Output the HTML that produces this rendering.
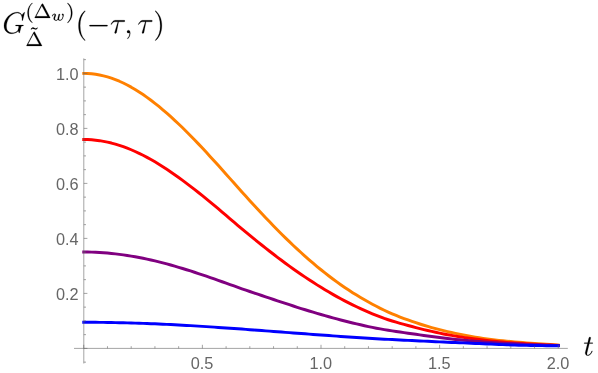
<!DOCTYPE html><html><head><meta charset="utf-8"><title>plot</title><style>html,body{margin:0;padding:0;background:#fff}svg{display:block}text{font-family:"Liberation Sans",sans-serif;font-size:16.3px;fill:#666}</style></head><body>
<svg width="598" height="373" viewBox="0 0 598 373">
<rect width="598" height="373" fill="#fff"/>
<g fill="none" stroke-width="2.95" stroke-linecap="square" stroke-linejoin="round">
<path stroke="#ff8000" d="M83.75 73.40 L87.70 73.50 L91.66 73.79 L95.61 74.28 L99.57 74.96 L103.52 75.84 L107.47 76.91 L111.43 78.16 L115.38 79.60 L119.34 81.23 L123.29 83.03 L127.25 85.01 L131.20 87.16 L135.15 89.47 L139.11 91.95 L143.06 94.58 L147.02 97.35 L150.97 100.27 L154.93 103.31 L158.88 106.47 L162.83 109.76 L166.79 113.16 L170.74 116.67 L174.70 120.29 L178.65 124.00 L182.60 127.81 L186.56 131.71 L190.51 135.69 L194.47 139.75 L198.42 143.88 L202.38 148.07 L206.33 152.33 L210.28 156.63 L214.24 160.98 L218.19 165.36 L222.15 169.77 L226.10 174.19 L230.05 178.62 L234.01 183.06 L237.96 187.49 L241.92 191.90 L245.87 196.29 L249.82 200.66 L253.78 204.98 L257.73 209.27 L261.69 213.50 L265.64 217.69 L269.60 221.83 L273.55 225.92 L277.50 229.95 L281.46 233.92 L285.41 237.83 L289.37 241.67 L293.32 245.45 L297.27 249.15 L301.23 252.78 L305.18 256.34 L309.14 259.81 L313.09 263.21 L317.05 266.53 L321.00 269.76 L324.95 272.92 L328.91 275.99 L332.86 278.97 L336.82 281.87 L340.77 284.69 L344.73 287.42 L348.68 290.07 L352.63 292.64 L356.59 295.12 L360.54 297.52 L364.50 299.84 L368.45 302.08 L372.40 304.23 L376.36 306.31 L380.31 308.32 L384.27 310.23 L388.22 312.05 L392.18 313.78 L396.13 315.43 L400.08 317.01 L404.04 318.52 L407.99 319.97 L411.95 321.36 L415.90 322.71 L419.85 324.02 L423.81 325.26 L427.76 326.45 L431.72 327.58 L435.67 328.66 L439.62 329.69 L443.58 330.67 L447.53 331.60 L451.49 332.49 L455.44 333.33 L459.40 334.13 L463.35 334.90 L467.30 335.64 L471.26 336.37 L475.21 337.08 L479.17 337.76 L483.12 338.39 L487.07 338.95 L491.03 339.47 L494.98 339.95 L498.94 340.40 L502.89 340.82 L506.85 341.21 L510.80 341.58 L514.75 341.93 L518.71 342.26 L522.66 342.58 L526.62 342.89 L530.57 343.19 L534.52 343.48 L538.48 343.77 L542.43 344.04 L546.39 344.31 L550.34 344.57 L554.30 344.82 L558.25 345.06"/>
<path stroke="#ff0000" d="M83.75 139.51 L87.70 139.58 L91.66 139.80 L95.61 140.17 L99.57 140.67 L103.52 141.33 L107.47 142.12 L111.43 143.06 L115.38 144.13 L119.34 145.34 L123.29 146.68 L127.25 148.15 L131.20 149.75 L135.15 151.48 L139.11 153.32 L143.06 155.29 L147.02 157.36 L150.97 159.54 L154.93 161.83 L158.88 164.22 L162.83 166.70 L166.79 169.27 L170.74 171.93 L174.70 174.67 L178.65 177.48 L182.60 180.36 L186.56 183.31 L190.51 186.31 L194.47 189.37 L198.42 192.48 L202.38 195.63 L206.33 198.83 L210.28 202.09 L214.24 205.40 L218.19 208.74 L222.15 212.10 L226.10 215.47 L230.05 218.84 L234.01 222.20 L237.96 225.54 L241.92 228.84 L245.87 232.12 L249.82 235.38 L253.78 238.61 L257.73 241.81 L261.69 244.99 L265.64 248.13 L269.60 251.23 L273.55 254.29 L277.50 257.31 L281.46 260.29 L285.41 263.22 L289.37 266.11 L293.32 268.94 L297.27 271.73 L301.23 274.46 L305.18 277.15 L309.14 279.78 L313.09 282.35 L317.05 284.88 L321.00 287.34 L324.95 289.75 L328.91 292.10 L332.86 294.39 L336.82 296.61 L340.77 298.77 L344.73 300.86 L348.68 302.90 L352.63 304.87 L356.59 306.77 L360.54 308.62 L364.50 310.40 L368.45 312.12 L372.40 313.78 L376.36 315.39 L380.31 316.93 L384.27 318.39 L388.22 319.74 L392.18 321.01 L396.13 322.20 L400.08 323.34 L404.04 324.42 L407.99 325.48 L411.95 326.52 L415.90 327.56 L419.85 328.58 L423.81 329.57 L427.76 330.51 L431.72 331.42 L435.67 332.30 L439.62 333.13 L443.58 333.93 L447.53 334.69 L451.49 335.42 L455.44 336.11 L459.40 336.76 L463.35 337.38 L467.30 337.96 L471.26 338.52 L475.21 339.04 L479.17 339.54 L483.12 340.01 L487.07 340.46 L491.03 340.88 L494.98 341.28 L498.94 341.66 L502.89 342.02 L506.85 342.36 L510.80 342.68 L514.75 342.98 L518.71 343.26 L522.66 343.53 L526.62 343.79 L530.57 344.03 L534.52 344.26 L538.48 344.47 L542.43 344.67 L546.39 344.86 L550.34 345.04 L554.30 345.21 L558.25 345.37"/>
<path stroke="#800080" d="M83.75 252.03 L87.70 252.06 L91.66 252.15 L95.61 252.29 L99.57 252.49 L103.52 252.74 L107.47 253.06 L111.43 253.44 L115.38 253.87 L119.34 254.37 L123.29 254.91 L127.25 255.50 L131.20 256.13 L135.15 256.81 L139.11 257.54 L143.06 258.32 L147.02 259.14 L150.97 260.01 L154.93 260.93 L158.88 261.89 L162.83 262.90 L166.79 263.94 L170.74 265.03 L174.70 266.15 L178.65 267.31 L182.60 268.50 L186.56 269.72 L190.51 270.96 L194.47 272.23 L198.42 273.53 L202.38 274.85 L206.33 276.19 L210.28 277.56 L214.24 278.95 L218.19 280.35 L222.15 281.76 L226.10 283.17 L230.05 284.58 L234.01 285.98 L237.96 287.38 L241.92 288.77 L245.87 290.14 L249.82 291.50 L253.78 292.85 L257.73 294.19 L261.69 295.52 L265.64 296.84 L269.60 298.16 L273.55 299.48 L277.50 300.79 L281.46 302.10 L285.41 303.42 L289.37 304.72 L293.32 306.01 L297.27 307.29 L301.23 308.54 L305.18 309.78 L309.14 311.00 L313.09 312.20 L317.05 313.37 L321.00 314.53 L324.95 315.66 L328.91 316.78 L332.86 317.86 L336.82 318.93 L340.77 319.97 L344.73 320.99 L348.68 321.98 L352.63 322.95 L356.59 323.89 L360.54 324.81 L364.50 325.71 L368.45 326.58 L372.40 327.41 L376.36 328.18 L380.31 328.91 L384.27 329.60 L388.22 330.25 L392.18 330.88 L396.13 331.48 L400.08 332.06 L404.04 332.63 L407.99 333.20 L411.95 333.76 L415.90 334.33 L419.85 334.90 L423.81 335.46 L427.76 336.01 L431.72 336.55 L435.67 337.07 L439.62 337.57 L443.58 338.06 L447.53 338.53 L451.49 338.99 L455.44 339.42 L459.40 339.82 L463.35 340.21 L467.30 340.57 L471.26 340.91 L475.21 341.24 L479.17 341.56 L483.12 341.86 L487.07 342.14 L491.03 342.41 L494.98 342.67 L498.94 342.92 L502.89 343.15 L506.85 343.38 L510.80 343.59 L514.75 343.80 L518.71 343.99 L522.66 344.18 L526.62 344.35 L530.57 344.52 L534.52 344.68 L538.48 344.83 L542.43 344.98 L546.39 345.11 L550.34 345.24 L554.30 345.37 L558.25 345.49"/>
<path stroke="#0000ff" d="M83.75 322.28 L87.70 322.29 L91.66 322.30 L95.61 322.33 L99.57 322.36 L103.52 322.40 L107.47 322.46 L111.43 322.52 L115.38 322.60 L119.34 322.68 L123.29 322.77 L127.25 322.88 L131.20 322.99 L135.15 323.11 L139.11 323.24 L143.06 323.38 L147.02 323.52 L150.97 323.68 L154.93 323.84 L158.88 324.01 L162.83 324.19 L166.79 324.38 L170.74 324.58 L174.70 324.78 L178.65 324.99 L182.60 325.20 L186.56 325.43 L190.51 325.65 L194.47 325.89 L198.42 326.13 L202.38 326.38 L206.33 326.63 L210.28 326.88 L214.24 327.15 L218.19 327.41 L222.15 327.68 L226.10 327.96 L230.05 328.23 L234.01 328.51 L237.96 328.80 L241.92 329.09 L245.87 329.37 L249.82 329.67 L253.78 329.96 L257.73 330.26 L261.69 330.55 L265.64 330.85 L269.60 331.15 L273.55 331.45 L277.50 331.75 L281.46 332.05 L285.41 332.35 L289.37 332.65 L293.32 332.95 L297.27 333.25 L301.23 333.55 L305.18 333.84 L309.14 334.14 L313.09 334.43 L317.05 334.72 L321.00 335.01 L324.95 335.30 L328.91 335.59 L332.86 335.87 L336.82 336.15 L340.77 336.43 L344.73 336.70 L348.68 336.97 L352.63 337.24 L356.59 337.50 L360.54 337.77 L364.50 338.02 L368.45 338.28 L372.40 338.52 L376.36 338.75 L380.31 338.98 L384.27 339.19 L388.22 339.39 L392.18 339.59 L396.13 339.79 L400.08 339.98 L404.04 340.17 L407.99 340.36 L411.95 340.55 L415.90 340.75 L419.85 340.95 L423.81 341.15 L427.76 341.34 L431.72 341.53 L435.67 341.71 L439.62 341.89 L443.58 342.07 L447.53 342.24 L451.49 342.41 L455.44 342.58 L459.40 342.74 L463.35 342.90 L467.30 343.06 L471.26 343.23 L475.21 343.41 L479.17 343.58 L483.12 343.75 L487.07 343.92 L491.03 344.09 L494.98 344.26 L498.94 344.43 L502.89 344.60 L506.85 344.77 L510.80 344.92 L514.75 345.06 L518.71 345.19 L522.66 345.29 L526.62 345.38 L530.57 345.46 L534.52 345.52 L538.48 345.58 L542.43 345.63 L546.39 345.66 L550.34 345.69 L554.30 345.70 L558.25 345.70"/>
</g>
<g stroke="#666" stroke-width="0.6" fill="none">
<path d="M74 348.4 H567.8"/>
<path d="M83.8 58.4 V363.5"/>
<path d="M83.75 348.4 v-3.6M107.47 348.4 v-2.2M131.20 348.4 v-2.2M154.93 348.4 v-2.2M178.65 348.4 v-2.2M202.38 348.4 v-3.6M226.10 348.4 v-2.2M249.82 348.4 v-2.2M273.55 348.4 v-2.2M297.27 348.4 v-2.2M321.00 348.4 v-3.6M344.73 348.4 v-2.2M368.45 348.4 v-2.2M392.18 348.4 v-2.2M415.90 348.4 v-2.2M439.62 348.4 v-3.6M463.35 348.4 v-2.2M487.07 348.4 v-2.2M510.80 348.4 v-2.2M534.52 348.4 v-2.2M558.25 348.4 v-3.6"/>
<path d="M83.8 362.15 h2.2M83.8 348.40 h3.6M83.8 334.65 h2.2M83.8 320.90 h2.2M83.8 307.15 h2.2M83.8 293.40 h3.6M83.8 279.65 h2.2M83.8 265.90 h2.2M83.8 252.15 h2.2M83.8 238.40 h3.6M83.8 224.65 h2.2M83.8 210.90 h2.2M83.8 197.15 h2.2M83.8 183.40 h3.6M83.8 169.65 h2.2M83.8 155.90 h2.2M83.8 142.15 h2.2M83.8 128.40 h3.6M83.8 114.65 h2.2M83.8 100.90 h2.2M83.8 87.15 h2.2M83.8 73.40 h3.6M83.8 59.65 h2.2"/>
</g>
<g style="will-change:transform">
<text x="78.6" y="299.50" text-anchor="end">0.2</text>
<text x="78.6" y="244.50" text-anchor="end">0.4</text>
<text x="78.6" y="189.50" text-anchor="end">0.6</text>
<text x="78.6" y="134.50" text-anchor="end">0.8</text>
<text x="78.6" y="79.50" text-anchor="end">1.0</text>
<text x="202.07" y="368.8" text-anchor="middle">0.5</text>
<text x="320.70" y="368.8" text-anchor="middle">1.0</text>
<text x="439.32" y="368.8" text-anchor="middle">1.5</text>
<text x="557.95" y="368.8" text-anchor="middle">2.0</text>
</g>
<g fill="#000" stroke="#000" stroke-width="0.35" stroke-linejoin="round" transform="translate(2.5 3) scale(0.6226)">
<path d="M35.66 15.11C35.66 14.67 35.33 14.67 35.22 14.67C35.12 14.67 34.94 14.67 34.56 15.16L31.27 19.13C31.02 18.73 30.06 17.06 28.2 15.97C26.14 14.67 24.09 14.67 23.38 14.67C13.14 14.67 2.39 25.09 2.39 36.38C2.39 44.27 7.84 49.33 15.02 49.33C18.45 49.33 22.8 48.19 25.19 45.17C25.72 46.98 26.77 48.28 27.09 48.28C27.34 48.28 27.39 48.14 27.44 48.14C27.48 48.05 27.86 46.38 28.11 45.52L28.88 42.45C29.25 40.88 29.44 40.2 29.78 38.77C30.25 36.95 30.34 36.81 32.98 36.77C33.17 36.77 33.75 36.77 33.75 35.86C33.75 35.38 33.27 35.38 33.12 35.38C32.31 35.38 31.41 35.47 30.55 35.47L27.97 35.47C25.95 35.47 23.84 35.38 21.89 35.38C21.45 35.38 20.89 35.38 20.89 36.23C20.89 36.72 21.27 36.72 21.27 36.77L22.47 36.77C26.23 36.77 26.23 37.14 26.23 37.86C26.23 37.91 25.33 42.73 24.42 44.17C22.61 46.84 18.83 47.95 16.02 47.95C12.33 47.95 6.36 46.03 6.36 37.77C6.36 34.56 7.5 27.25 12.14 21.84C15.16 18.41 19.59 16.06 23.8 16.06C29.44 16.06 31.45 20.89 31.45 25.3C31.45 26.06 31.27 27.11 31.27 27.78C31.27 28.2 31.73 28.2 31.88 28.2C32.41 28.2 32.45 28.16 32.64 27.3ZM35.66 15.11"/>
<path d="M47.52 31.87C47.77 31.87 48.16 31.87 48.16 31.48C48.16 31.35 48.13 31.32 47.71 30.92C43.35 26.81 42.27 20.87 42.27 15.93C42.27 6.76 46.05 2.46 47.68 0.99C48.13 0.57 48.16 0.54 48.16 0.38C48.16 0.23 48.04 0.01 47.71 0.01C47.21 0.01 45.62 1.63 45.35 1.92C41.08 6.38 40.19 12.12 40.19 15.93C40.19 23.07 43.19 28.81 47.52 31.87ZM47.52 31.87"/>
<path d="M65.11 1.79C64.76 1.15 64.39 1.15 64.16 1.15C63.94 1.15 63.55 1.15 63.2 1.79L51.92 23.1C51.7 23.45 51.7 23.52 51.7 23.59C51.7 23.9 51.95 23.9 52.47 23.9L75.86 23.9C76.39 23.9 76.61 23.9 76.61 23.59C76.61 23.52 76.61 23.45 76.39 23.1ZM63.11 4.27L72.19 21.38L54.03 21.38ZM63.11 4.27"/>
<path d="M85.52 20.35C85.69 19.95 85.74 19.81 85.74 19.43C85.74 18.09 84.52 17.35 83.35 17.35C80.91 17.35 79.74 20.53 79.74 21.03C79.74 21.15 79.83 21.37 80.18 21.37C80.5 21.37 80.58 21.21 80.65 21.01C81.32 18.71 82.58 18.14 83.25 18.14C83.74 18.14 83.9 18.45 83.9 18.99C83.9 19.53 83.58 20.31 83.33 20.96C82.36 23.34 82.22 24.26 82.22 24.87C82.22 27.17 84.07 28.12 86.32 28.12C86.77 28.12 88.05 28.12 89.11 26.48L89.3 26.71C89.58 27.1 90.38 28.12 92.66 28.12C97.04 28.12 98.16 20.29 98.16 19.31C98.16 17.59 97.18 17.32 96.88 17.32C96.21 17.32 95.54 18.03 95.54 18.67C95.54 19.09 95.85 19.34 96.02 19.45C96.61 19.93 96.9 20.56 96.9 21.29C96.9 21.84 95.77 27.34 92.77 27.34C90.69 27.34 90.69 25.68 90.69 25.21C90.69 24.59 90.9 23.7 91.1 22.96L91.69 20.56L92.02 19.21C92.1 18.93 92.21 18.48 92.21 18.37C92.21 18.09 92 17.59 91.35 17.59C90.47 17.59 90.3 18.32 90.08 19.17C89.9 19.95 89.04 23.32 88.94 23.74C88.86 24.1 88.8 24.4 88.8 24.92C88.8 25.09 88.8 25.23 88.82 25.37C88.1 26.84 87.4 27.34 86.41 27.34C84.74 27.34 84.11 26.39 84.11 25.14C84.11 24.23 84.47 23.01 85.21 21.2ZM85.52 20.35"/>
<path d="M112.11 15.93C112.11 12.92 111.59 9.27 109.62 5.51C108.06 2.59 105.17 0.01 104.59 0.01C104.26 0.01 104.17 0.23 104.17 0.38C104.17 0.51 104.17 0.57 104.56 0.96C109.01 5.2 110.04 11.02 110.04 15.93C110.04 25.07 106.25 29.42 104.62 30.88C104.2 31.29 104.17 31.32 104.17 31.48C104.17 31.63 104.26 31.87 104.59 31.87C105.09 31.87 106.68 30.24 106.95 29.95C111.22 25.49 112.11 19.76 112.11 15.93ZM112.11 15.93"/>
<path d="M55.96 39.51C54.66 40.94 53.68 40.94 53.32 40.94C52.58 40.94 51.91 40.61 51.16 40.21C50.29 39.79 49.72 39.51 48.99 39.51C47.74 39.51 47.12 40.18 45.38 42.05L46.02 42.66C47.33 41.22 48.32 41.22 48.66 41.22C49.4 41.22 50.07 41.54 50.83 41.96C51.69 42.36 52.27 42.66 53.01 42.66C54.24 42.66 54.88 41.99 56.6 40.11ZM55.96 39.51"/>
<path d="M51.94 46.82C51.6 46.18 51.22 46.18 50.99 46.18C50.77 46.18 50.38 46.18 50.04 46.82L38.76 68.13C38.54 68.48 38.54 68.56 38.54 68.62C38.54 68.93 38.79 68.93 39.3 68.93L62.69 68.93C63.22 68.93 63.44 68.93 63.44 68.62C63.44 68.56 63.44 68.48 63.22 68.13ZM49.94 49.31L59.02 66.42L40.87 66.42ZM49.94 49.31"/>
<path d="M132.95 59.94C132.95 59.8 132.95 59.7 132.14 58.89C127.36 54.06 124.69 46.17 124.69 36.42C124.69 27.16 126.94 19.17 132.48 13.53C132.95 13.11 132.95 13 132.95 12.86C132.95 12.58 132.72 12.48 132.53 12.48C131.91 12.48 127.98 15.92 125.64 20.61C123.2 25.44 122.11 30.55 122.11 36.42C122.11 40.69 122.78 46.38 125.26 51.48C128.08 57.22 132 60.33 132.53 60.33C132.72 60.33 132.95 60.23 132.95 59.94ZM132.95 59.94"/>
<path d="M167.12 37.33C167.93 37.33 168.79 37.33 168.79 36.38C168.79 35.42 167.93 35.42 167.12 35.42L141.26 35.42C140.45 35.42 139.59 35.42 139.59 36.38C139.59 37.33 140.45 37.33 141.26 37.33ZM167.12 37.33"/>
<path d="M186.5 30.31L194.44 30.31C195.05 30.31 196.63 30.31 196.63 28.78C196.63 27.73 195.72 27.73 194.86 27.73L181.72 27.73C180.63 27.73 179 27.73 176.8 30.06C175.55 31.45 174.04 33.98 174.04 34.28C174.04 34.56 174.27 34.66 174.55 34.66C174.89 34.66 174.94 34.52 175.18 34.23C177.66 30.31 180.14 30.31 181.35 30.31L185.3 30.31L180.33 46.7C180.1 47.42 180.1 47.52 180.1 47.66C180.1 48.19 180.43 48.86 181.39 48.86C182.86 48.86 183.11 47.56 183.25 46.84ZM186.5 30.31"/>
<path d="M205.16 48.52C205.16 45.75 204.24 43.69 202.28 43.69C200.75 43.69 199.99 44.94 199.99 45.98C199.99 47.03 200.7 48.33 202.33 48.33C202.95 48.33 203.47 48.14 203.91 47.7C204 47.61 204.05 47.61 204.1 47.61C204.19 47.61 204.19 48.28 204.19 48.52C204.19 50.09 203.91 53.2 201.14 56.31C200.61 56.89 200.61 56.98 200.61 57.08C200.61 57.31 200.85 57.55 201.08 57.55C201.47 57.55 205.16 54.02 205.16 48.52ZM205.16 48.52"/>
<path d="M230.53 30.31L238.47 30.31C239.08 30.31 240.65 30.31 240.65 28.78C240.65 27.73 239.75 27.73 238.89 27.73L225.75 27.73C224.65 27.73 223.03 27.73 220.83 30.06C219.58 31.45 218.06 33.98 218.06 34.28C218.06 34.56 218.29 34.66 218.58 34.66C218.92 34.66 218.97 34.52 219.2 34.23C221.68 30.31 224.17 30.31 225.37 30.31L229.33 30.31L224.36 46.7C224.12 47.42 224.12 47.52 224.12 47.66C224.12 48.19 224.45 48.86 225.42 48.86C226.89 48.86 227.14 47.56 227.28 46.84ZM230.53 30.31"/>
<path d="M255.95 36.42C255.95 32.8 255.47 26.88 252.8 21.33C249.97 15.59 246.05 12.48 245.53 12.48C245.34 12.48 245.09 12.58 245.09 12.86C245.09 13 245.09 13.11 245.91 13.92C250.69 18.73 253.36 26.63 253.36 36.38C253.36 45.66 251.13 53.64 245.58 59.28C245.09 59.7 245.09 59.8 245.09 59.94C245.09 60.23 245.34 60.33 245.53 60.33C246.16 60.33 250.06 56.89 252.41 52.2C254.84 47.33 255.95 42.16 255.95 36.42ZM255.95 36.42"/>
</g>
<g fill="#000" stroke="#000" stroke-width="0.35" stroke-linejoin="round" transform="translate(583.4 337.35) scale(0.6226)">
<path d="M9.54 10L13.85 10C14.75 10 15.21 10 15.21 9.15C15.21 8.64 14.93 8.64 14 8.64L9.87 8.64L11.6 1.78C11.79 1.12 11.79 1.03 11.79 0.7C11.79 -0.05 11.18 -0.47 10.57 -0.47C10.2 -0.47 9.12 -0.33 8.75 1.17L6.92 8.64L2.51 8.64C1.57 8.64 1.15 8.64 1.15 9.53C1.15 10 1.48 10 2.37 10L6.54 10L3.45 22.37C3.07 24.01 2.93 24.48 2.93 25.09C2.93 27.29 4.48 29.31 7.1 29.31C11.84 29.31 14.37 22.46 14.37 22.14C14.37 21.86 14.18 21.71 13.9 21.71C13.81 21.71 13.62 21.71 13.53 21.9C13.48 21.95 13.43 22 13.1 22.75C12.12 25.09 9.96 28.37 7.25 28.37C5.84 28.37 5.75 27.2 5.75 26.17C5.75 26.12 5.75 25.23 5.89 24.67ZM9.54 10"/>
</g>
</svg></body></html>
